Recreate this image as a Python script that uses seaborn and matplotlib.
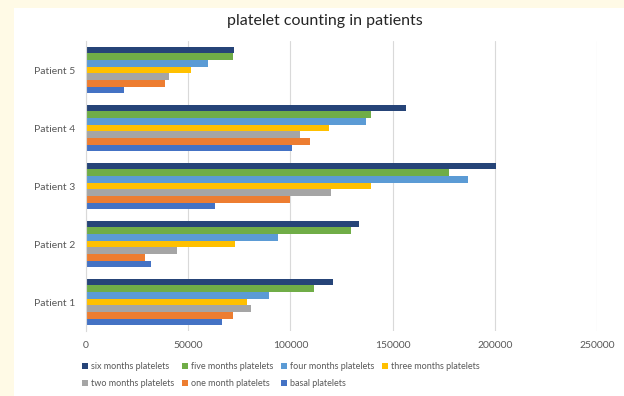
import matplotlib
matplotlib.use("Agg")
import matplotlib.pyplot as plt
import seaborn as sns
import pandas as pd
from matplotlib.patches import Rectangle

patients = ["Patient 5", "Patient 4", "Patient 3", "Patient 2", "Patient 1"]
series = ["six months platelets", "five months platelets", "four months platelets",
          "three months platelets", "two months platelets", "one month platelets",
          "basal platelets"]
six_months = [72600, 156500, 200700, 133700, 120900]
five_months = [71700, 139600, 177700, 129700, 111600]
four_months = [59800, 136800, 186700, 93800, 89700]
three_months = [51600, 118700, 139600, 72800, 78800]
two_months = [40700, 104700, 119700, 44600, 80600]
one_month = [38600, 109600, 99700, 28700, 71700]
basal = [18700, 100700, 62900, 31800, 66600]
x_ticks = [0, 50000, 100000, 150000, 200000, 250000]
colors = ["#264478", "#70AD47", "#5B9BD5", "#FFC000", "#A5A5A5", "#ED7D31", "#4472C4"]

values = [six_months, five_months, four_months, three_months, two_months, one_month, basal]
rows = []
for s, vals in zip(series, values):
    for p, v in zip(patients, vals):
        rows.append({"patient": p, "series": s, "value": v})
df = pd.DataFrame(rows)

sns.set_style("white")
plt.rcParams["font.family"] = ["Lato", "DejaVu Sans"]

fig = plt.figure(figsize=(6.24, 3.96), dpi=100, facecolor="#FFFAE6")
fig.patches.append(Rectangle((14 / 624, 0), 1 - 14 / 624, 1 - 8 / 396,
                             transform=fig.transFigure, facecolor="white",
                             edgecolor="none", zorder=-10))
ax = fig.add_axes([86 / 624, 1 - 331 / 396, (597 - 86) / 624, (331 - 41) / 396])
ax.set_facecolor("white")

sns.barplot(data=df, y="patient", x="value", hue="series", order=patients,
            hue_order=series, palette=colors, orient="h", width=0.81, gap=0,
            linewidth=0, saturation=1, errorbar=None, ax=ax, legend=True)

ax.set_xlim(0, 250000)
ax.set_ylim(4.5, -0.5)
ax.set_xticks(x_ticks)
ax.set_xticklabels([str(t) for t in x_ticks])
ax.xaxis.grid(True, color="#D9D9D9", linewidth=0.8)
ax.yaxis.grid(False)
ax.set_axisbelow(True)
for sp in ["top", "right", "bottom"]:
    ax.spines[sp].set_visible(False)
ax.spines["left"].set_color("#D9D9D9")
ax.spines["left"].set_linewidth(0.8)
ax.tick_params(axis="both", length=0, labelsize=7.5, labelcolor="#595959")
ax.tick_params(axis="x", pad=7)
ax.tick_params(axis="y", pad=8)
ax.set_xlabel("")
ax.set_ylabel("")

handles, labels = ax.get_legend_handles_labels()
ax.get_legend().remove()
order = [0, 4, 1, 5, 2, 6, 3]
fig.legend([handles[i] for i in order], [labels[i] for i in order],
           loc="upper left", bbox_to_anchor=(82 / 624, 1 - 362 / 396), ncol=4,
           frameon=False, fontsize=6.5, labelcolor="#595959",
           handlelength=0.7, handleheight=0.7, handletextpad=0.3,
           columnspacing=0.85, labelspacing=0.9, borderpad=0, borderaxespad=0)

fig.text(0.521, 1 - 21 / 396, "platelet counting in patients", ha="center",
         va="center", fontsize=11.5, color="#262626")

fig.savefig("out.png", dpi=100, facecolor=fig.get_facecolor())
